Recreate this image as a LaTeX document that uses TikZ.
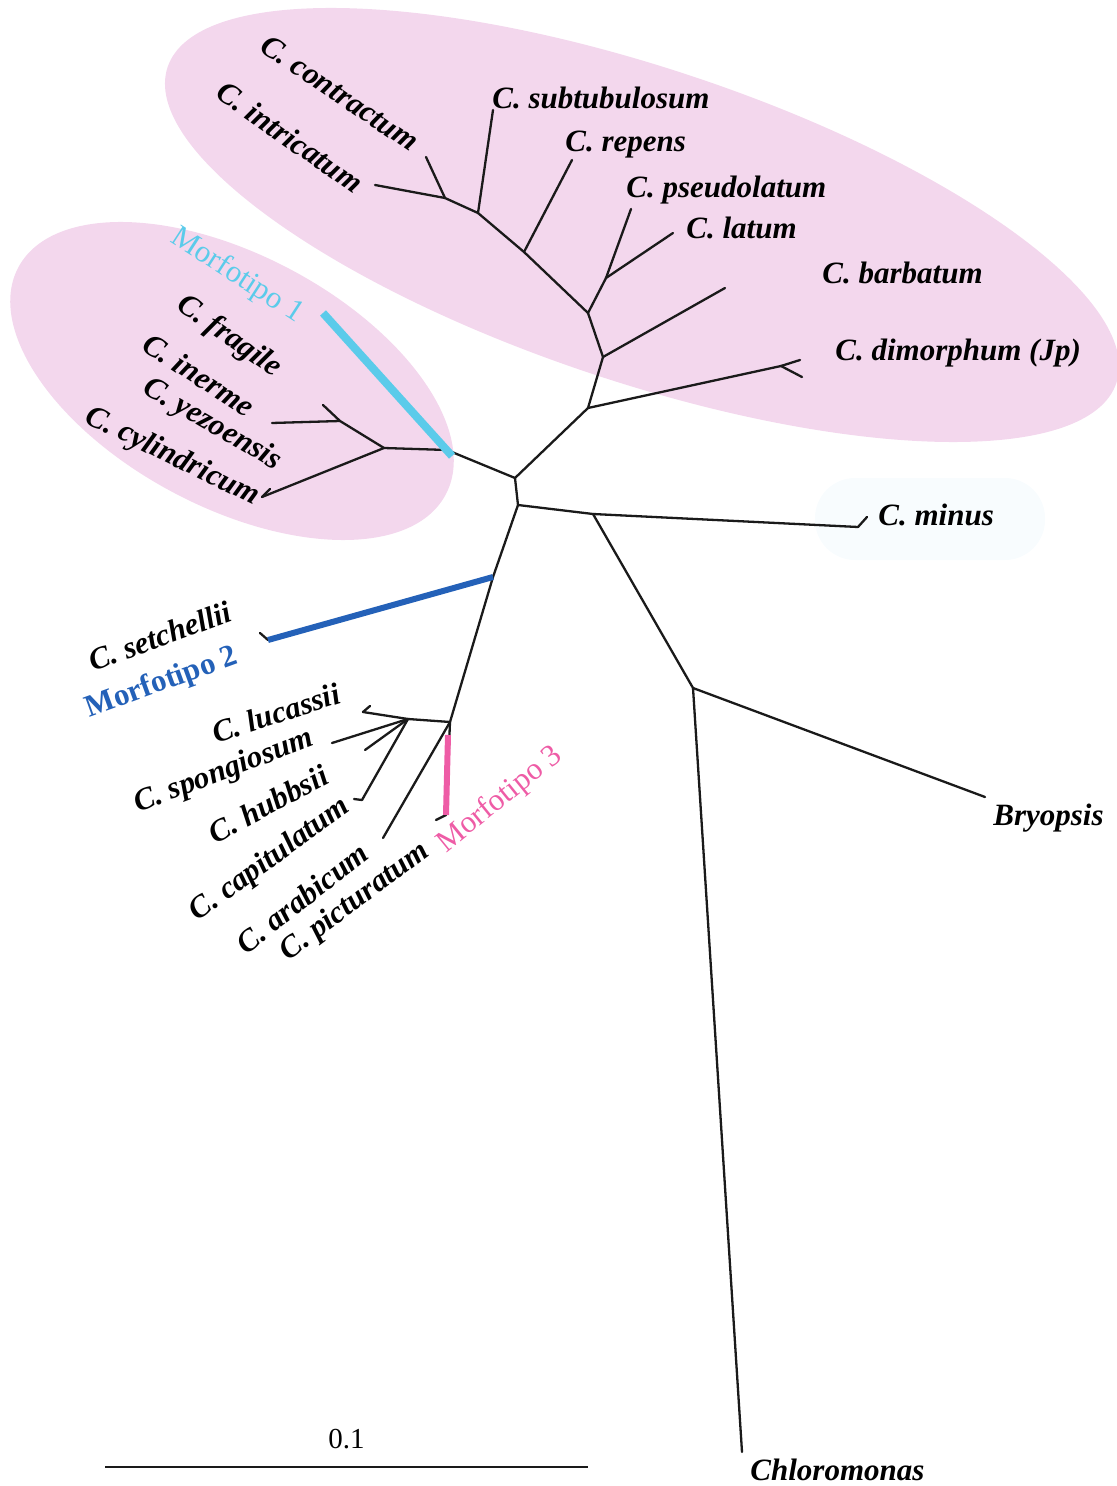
\documentclass[tikz,border=0pt]{standalone}
\usepackage{fontspec}
\setmainfont{Liberation Serif}
\usepackage{xcolor}
\usepackage{tikz}
\usetikzlibrary{positioning,calc}
\definecolor{arbrose}{RGB}{243,215,237}
\definecolor{arbhalo}{RGB}{248,252,254}
\definecolor{arbcyan}{HTML}{5BCBEA}
\definecolor{arbbleu}{HTML}{2461B8}
\definecolor{arbmagenta}{HTML}{EE5CA6}
\definecolor{arbtrait}{HTML}{1A1A1A}

\begin{document}
\begin{tikzpicture}[x=0.5pt,y=-0.5pt,
  branch/.style={arbtrait,line width=1.15pt,line cap=round,line join=round},
  taxon/.style={font=\fontsize{15.5}{18}\selectfont\bfseries\itshape,inner sep=0pt},
  morfo/.style={font=\fontsize{15.5}{18}\selectfont,inner sep=0pt},
  bande/.style={line width=#1,line cap=butt}]
  \useasboundingbox (0,0) rectangle (1117,1486);
  \fill[arbrose,rotate around={-18.4:(642,225)}] (642,225) ellipse [x radius=500,y radius=157];
  \fill[arbrose,rotate around={-28:(232,381)}] (232,381) ellipse [x radius=242,y radius=126];
  \fill[arbhalo,rounded corners=20pt] (815,478) rectangle (1045,560);
  \foreach \n/\x/\y in {A/515/478, B/518/505, C/593/514, D/693/688,
      minus/858/527, minusT/867/517, bryo/985/797, chloro/742/1452,
      E/588/408, F/603/357, G/588/313, H/524/252, I/478/213, J/445/198, K/606/278,
      contr/426/157, intri/375/185, subtu/493/110, repen/572/160, pseud/631/209,
      latum/673/233, barba/725/288, dimo/781/366, dimoA/800/360, dimoB/802/377,
      L/447/450, M/384/448, N/340/421, frag/323/405, yezo/272/423, cyli/262/497, cyliT/270/489,
      P/493/577, seta/268/640, setaT/260/633, Q/450/722, R/408/719,
      luca/363/712, lucaT/370/706, spon/332/743, hubb/365/750, capi/362/800, capiT/354/799,
      arab/383/838, pict/446/815, pictT/436/820,
      m1a/323/313, m1b/452/456, m3a/448/735}
    \coordinate (\n) at (\x,\y);
  \foreach \a/\b in {A/B, A/E, A/L, B/C, B/P, C/minus, minus/minusT, C/D, D/bryo, D/chloro,
      E/F, E/dimo, dimo/dimoA, dimo/dimoB, F/barba, F/G, G/K, K/pseud, K/latum,
      G/H, H/repen, H/I, I/subtu, I/J, J/contr, J/intri,
      L/M, M/N, N/frag, N/yezo, M/cyli, cyli/cyliT,
      P/seta, seta/setaT, P/Q, Q/R, R/luca, luca/lucaT, R/spon, R/hubb, R/capi, capi/capiT,
      Q/arab, Q/pict, pict/pictT}
    \draw[branch] (\a) -- (\b);
  \draw[bande=4pt,arbcyan] (m1a) -- (m1b);
  \draw[bande=3pt,arbbleu] (P) -- (seta);
  \draw[bande=3pt,arbmagenta] (m3a) -- (pict);
  \foreach \n/\x/\y/\lab in {lsubtu/492/98/C. subtubulosum, lrepen/565/145/C. repens,
      lpseud/626/190/C. pseudolatum, llatum/686/228/C. latum, lbarba/822/273/C. barbatum,
      ldimo/835/353/C. dimorphum (Jp), lminus/878/515/C. minus, lbryo/993/818/Bryopsis,
      lchloro/750/1470/Chloromonas}
    \node[taxon,anchor=west] (\n) at (\x,\y) {\lab};
  \foreach \n/\x/\y/\r/\lab in {lcontr/340/93/-34/C. contractum, lintri/290/137/-35/C. intricatum,
      lfrag/229/337/-35/C. fragile, liner/199/375/-33/C. inerme, lyezo/212/425/-30/C. yezoensis,
      lcyli/172/457/-26/C. cylindricum, lseta/160/636/20/C. setchellii,
      lluca/276/713/18/C. lucassii, lspon/224/772/21/C. spongiosum, lhubb/268/804/28/C. hubbsii,
      lcapi/270/860/36/C. capitulatum, larab/302/898/38/C. arabicum, lpict/355/902/37/C. picturatum}
    \node[taxon,rotate=\r] (\n) at (\x,\y) {\lab};
  \node[morfo,arbcyan,rotate=-33] (mt1) at (237,276) {Morfotipo 1};
  \node[morfo,arbbleu,font=\fontsize{15.5}{18}\selectfont\bfseries,rotate=20] (mt2) at (162,683) {Morfotipo 2};
  \node[morfo,arbmagenta,rotate=39] (mt3) at (500,800) {Morfotipo 3};
  \coordinate (ech1) at (105,1467);
  \coordinate (ech2) at (588,1467);
  \draw[branch,line cap=butt] (ech1) -- (ech2);
  \node[morfo,font=\fontsize{14.5}{17}\selectfont,above=9pt of $(ech1)!0.5!(ech2)$] (lech) {0.1};
\end{tikzpicture}
\end{document}
